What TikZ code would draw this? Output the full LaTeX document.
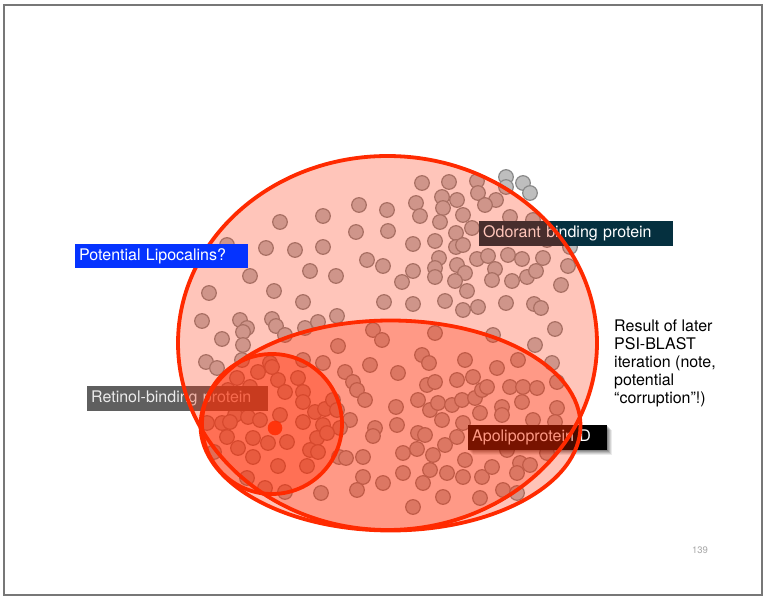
\documentclass[tikz,border=0pt]{standalone}
\usepackage{fontspec}
\setmainfont{TeX Gyre Heros}
\definecolor{setred}{HTML}{FF2A00}
\definecolor{dotgray}{HTML}{BEBEBE}
\definecolor{dotedge}{HTML}{8A8A8A}
\definecolor{lipoblue}{HTML}{0533FF}
\definecolor{odorteal}{HTML}{05303F}
\definecolor{retgray}{HTML}{5F5F5F}
\definecolor{framegray}{HTML}{777777}
\definecolor{pagegray}{HTML}{A8A8A8}
\begin{document}
\begin{tikzpicture}[x=1pt,y=-1pt,
  dot/.style={fill=dotgray, draw=dotedge, line width=1.2pt},
  setarea/.style={draw=setred, line width=3.8pt, fill=setred, fill opacity=#1},
  labelbox/.style={rectangle, anchor=west, inner xsep=4pt, inner ysep=0pt,
    minimum height=24.5pt, align=left, text=white,
    font=\fontsize{16}{18}\selectfont}]
\useasboundingbox (0,0) rectangle (764,596);
\fill[white] (0,0) rectangle (764,596);
\draw[framegray, line width=1.6pt] (4,5) rectangle (762,595);

% protein hits (grey), later tinted by the translucent sets above them
\foreach \x/\y in {
 422/183,449/182,477/181,506/177,523/183,530/193,506/187,
 478/193,496/200,485/205,442/197,457/200,416/203,443/208,420/216,463/215,440/222,
 359/205,387/210,323/216,280/222,356/232,388/231,472/228,510/217,533/220,456/233,
 435/241,413/244,456/247,463/245,266/248,295/250,323/247,227/245,547/240,570/247,
 367/260,383/266,439/258,457/265,477/259,488/256,508/255,522/259,543/258,568/266,
 250/276,310/271,336/276,413/271,435/268,435/277,465/273,455/281,402/282,495/269,
 492/280,512/281,527/277,536/271,561/285,209/293,274/291,467/291,303/302,384/302,
 413/304,445/301,463/310,478/307,506/303,534/304,541/308,202/321,240/320,247/328,
 243/332,272/319,276/326,285/335,305/328,318/322,337/316,222/339,243/345,373/330,
 382/340,435/333,493/335,555/329,535/345,
 338/346,206/362,217/368,242/360,303/360,323/363,370/365,398/373,422/355,429/363,
 465/360,497/368,518/360,552/363,345/372,353/382,357/390,365/400,270/363,258/372,
 237/378,278/380,298/378,285/392,303/392,228/390,213/400,253/398,280/415,303/402,
 315/412,325/409,333/400,337/410,350/420,340/428,235/415,222/423,207/423,248/417,
 260/420,303/422,323/425,227/437,253/438,268/443,287/442,317/438,327/433,310/450,
 318/452,238/448,214/452,253/457,278/466,307/466,247/478,265/488,285/492,
 321/493,339/457,346/458,363/457,363/477,357/490,383/483,375/428,373/436,396/407,
 397/425,403/453,403/473,413/507,418/400,427/385,435/382,430/410,438/403,442/420,
 418/433,425/435,417/449,433/455,445/445,430/470,447/473,423/483,443/497,457/380,
 452/405,462/400,473/377,475/398,482/390,487/387,480/413,463/423,457/437,465/460,
 463/477,482/477,492/467,480/498,502/407,502/415,510/387,523/387,537/388,522/402,
 533/420,557/408,557/382,555/422,507/450,520/463,530/465,517/473,503/490,517/493,
 547/453,272/367,250/387,230/422}
  \filldraw[dot] (\x,\y) circle[radius=7.3];

% labels lying under the sets
\node[labelbox, fill=odorteal, text width=186pt] (odorant) at (479,233.5) {Odorant binding protein};
\node[labelbox, fill=retgray, text=white!92!black, text width=173pt] (retinol) at (87,398.5) {Retinol-binding protein};
\foreach \s/\o in {1/0.16,2/0.14,3/0.12,4/0.10,5/0.08}
  \fill[black, opacity=\o] (468+\s,425+\s) rectangle (607+\s,450+\s);
\node[labelbox, fill=black, text width=131pt] (apod) at (468,437.5) {Apolipoprotein D};

% nested sets of hits
\filldraw[setarea=0.27] (387.5,343) ellipse[x radius=209.5, y radius=187];
\filldraw[setarea=0.28] (390.5,425.5) ellipse[x radius=190, y radius=105];
\filldraw[setarea=0.36] (272,424) circle[radius=70];
\fill[setred, opacity=0.85] (275,428) circle[radius=7.3];

% labels on top
\node[labelbox, fill=lipoblue, text width=165pt] (lipo) at (75,256) {Potential Lipocalins?};
\node[anchor=north west, align=left, inner sep=0pt, font=\fontsize{16}{18}\selectfont] (note) at (614,319.5)
  {Result of later\\PSI-BLAST\\iteration (note,\\potential\\“corruption”!)};
\node[font=\fontsize{9.5}{11}\selectfont, text=pagegray] (pagenum) at (700,550) {139};
\end{tikzpicture}
\end{document}
